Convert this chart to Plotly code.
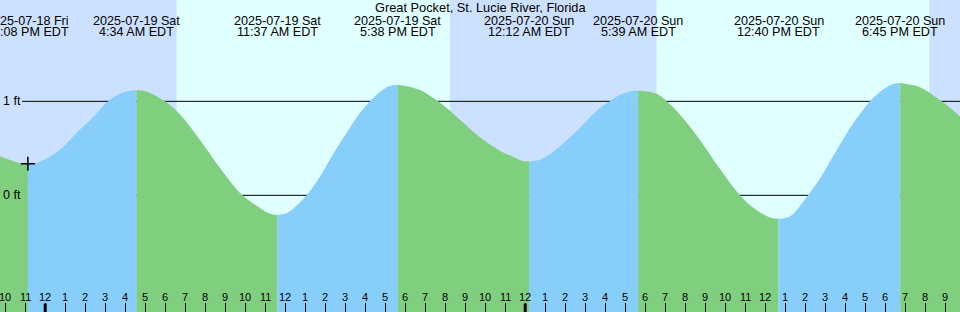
import pandas as pd
import plotly.graph_objects as go

# ---------------- data ----------------
station = "Great Pocket, St. Lucie River, Florida"
base = pd.Timestamp("2025-07-19 00:00")

# tide extremes (hours relative to 2025-07-19 00:00 EDT) and heights (ft)
event_hours = [-0.8667, 4.5667, 11.6167, 17.6333, 24.2, 29.65, 36.6667, 42.75]
event_ft = [0.336, 1.117, -0.21, 1.177, 0.36, 1.113, -0.25, 1.195]
event_date_labels = ["2025-07-18 Fri", "2025-07-19 Sat", "2025-07-19 Sat", "2025-07-19 Sat",
                     "2025-07-20 Sun", "2025-07-20 Sun", "2025-07-20 Sun", "2025-07-20 Sun"]
event_time_labels = ["11:08 PM EDT", "4:34 AM EDT", "11:37 AM EDT", "5:38 PM EDT",
                     "12:12 AM EDT", "5:39 AM EDT", "12:40 PM EDT", "6:45 PM EDT"]

# tide heights
sample_hours = [-2.26, -1.27, -0.47, -0.26, 0.24, 0.74, 1.24, 1.74, 2.24, 2.74, 3.14, 3.74, 4.17,
                4.97, 5.24, 5.99, 6.74, 7.74, 8.74, 9.74, 10.74, 11.22,
                12.02, 12.24, 13.075, 13.74, 14.24, 14.74, 15.24, 15.74, 16.24, 16.74, 17.23,
                18.03, 18.74, 19.64, 20.24, 21.74, 22.74, 23.39, 23.8,
                24.6, 25.075, 25.74, 26.24, 26.74, 27.24, 27.74, 28.24, 28.74, 29.25,
                30.05, 30.575, 31.075, 31.74, 32.74, 33.74, 34.74, 35.39, 36.27,
                37.07, 37.39, 38.14, 38.74, 39.24, 39.74, 40.24, 40.74, 41.24, 41.74, 42.35,
                43.15, 43.74, 44.825, 45.74]
sample_ft = [0.415, 0.343, 0.343, 0.36, 0.41, 0.485, 0.59, 0.70, 0.80, 0.91, 1.0, 1.08, 1.109,
             1.109, 1.09, 1.0, 0.86, 0.59, 0.29, 0.025, -0.135, -0.193,
             -0.193, -0.17, 0.0, 0.20, 0.38, 0.556, 0.72, 0.875, 1.0, 1.10, 1.163,
             1.163, 1.12, 1.0, 0.90, 0.617, 0.475, 0.41, 0.371,
             0.371, 0.415, 0.52, 0.617, 0.716, 0.83, 0.93, 1.0, 1.07, 1.105,
             1.105, 1.08, 1.0, 0.857, 0.59, 0.28, 0.0, -0.13, -0.239,
             -0.239, -0.2, 0.0, 0.18, 0.36, 0.54, 0.716, 0.865, 1.0, 1.1, 1.181,
             1.181, 1.15, 1.0, 0.84]

# sunrise / sunset (hours relative to 2025-07-19 00:00)
day_start_hours = [6.57, 30.57]
day_end_hours = [20.24, 44.2]

now_hour = -0.8667
now_ft = 0.336

midnight_hours = [0, 24]
ref_levels = [1, 0]
ref_labels = ["1 ft", "0 ft"]

view_start_hour = -2.26
view_hours = 48
y_range = [-1.241, 2.078]

# ---------------- styles ----------------
night_col = "#cce0ff"
day_col = "#e0ffff"
rise_col = "#87cefa"
fall_col = "#7fcf7f"
font_family = "Liberation Sans, Arial, sans-serif"
H = 312


def t(h):
    return base + pd.to_timedelta(h, unit="h")


x0 = t(view_start_hour)
x1 = t(view_start_hour + view_hours)

fig = go.Figure()

# combine extremes and samples into one sorted curve
pts = sorted([(h, v, True) for h, v in zip(event_hours, event_ft)] +
             [(h, v, False) for h, v in zip(sample_hours, sample_ft)])
segments = []
cur = []
for p in pts:
    cur.append(p)
    if p[2] and len(cur) > 1:
        segments.append(cur)
        cur = [p]
if len(cur) > 1:
    segments.append(cur)

for seg in segments:
    hs = [p[0] for p in seg]
    vs = [p[1] for p in seg]
    col = rise_col if vs[-1] > vs[0] else fall_col
    fig.add_trace(go.Scatter(x=[t(hs[0]), t(hs[-1])], y=[y_range[0], y_range[0]],
                             mode="lines", line=dict(width=0), hoverinfo="skip"))
    fig.add_trace(go.Scatter(x=[t(h) for h in hs], y=vs, mode="lines",
                             line=dict(width=0, shape="spline", smoothing=1.0),
                             fill="tonexty", fillcolor=col, hoverinfo="skip"))

# now marker
fig.add_trace(go.Scatter(x=[t(now_hour)], y=[now_ft], mode="markers",
                         marker=dict(symbol="cross-thin", size=10,
                                     line=dict(width=1.5, color="black")),
                         hoverinfo="skip"))

shapes = []
for a, b in zip(day_start_hours, day_end_hours):
    shapes.append(dict(type="rect", layer="below", xref="x", yref="paper",
                       x0=t(a), x1=t(b), y0=0, y1=1, fillcolor=day_col,
                       line=dict(width=0)))
for lv in ref_levels:
    shapes.append(dict(type="line", layer="below", xref="paper", yref="y",
                       x0=22 / 960, x1=1, y0=lv, y1=lv,
                       line=dict(color="black", width=1)))
for mh in midnight_hours:
    shapes.append(dict(type="line", layer="above", xref="x", yref="paper",
                       x0=t(mh), x1=t(mh), y0=0, y1=8.5 / H,
                       line=dict(color="black", width=3)))

annotations = []
annotations.append(dict(text=station, x=0.5, y=1 - 7 / H, xref="paper", yref="paper",
                        showarrow=False, xanchor="center", yanchor="middle",
                        height=12, valign="middle",
                        font=dict(size=12.8, color="black", family=font_family)))
for h, d, tl in zip(event_hours, event_date_labels, event_time_labels):
    annotations.append(dict(text=d, x=t(h), y=1 - 20 / H, xref="x", yref="paper",
                            showarrow=False, xanchor="center", yanchor="middle",
                            height=11, valign="middle",
                            font=dict(size=12.6, color="black", family=font_family)))
    annotations.append(dict(text=tl, x=t(h), y=1 - 31.5 / H, xref="x", yref="paper",
                            showarrow=False, xanchor="center", yanchor="middle",
                            height=11, valign="middle",
                            font=dict(size=12.6, color="black", family=font_family)))
for lv, lb in zip(ref_levels, ref_labels):
    annotations.append(dict(text=lb, x=0, y=lv, xref="paper", yref="y", xshift=1,
                            showarrow=False, xanchor="left", yanchor="middle",
                            font=dict(size=12.5, color="black", family=font_family)))

# hour labels
hour_ticks = pd.date_range(t(-2), t(45), freq="h")
hour_labels = [str((ts.hour % 12) or 12) for ts in hour_ticks]
for ts, lb in zip(hour_ticks, hour_labels):
    annotations.append(dict(text=lb, x=ts, y=1 - 296.5 / H, xref="x", yref="paper",
                            showarrow=False, xanchor="center", yanchor="middle",
                            font=dict(size=11, color="black", family=font_family)))

fig.update_layout(
    width=960, height=H, autosize=False,
    margin=dict(l=0, r=0, t=0, b=0),
    paper_bgcolor=night_col, plot_bgcolor=night_col,
    showlegend=False,
    shapes=shapes, annotations=annotations,
    xaxis=dict(type="date", range=[x0, x1], showgrid=False, zeroline=False,
               showticklabels=False, ticks="inside", ticklen=9, tickwidth=1,
               tickcolor="black", tickvals=list(hour_ticks), showline=False,
               fixedrange=True),
    yaxis=dict(range=y_range, visible=False, fixedrange=True),
)

fig.write_html("out.html")
